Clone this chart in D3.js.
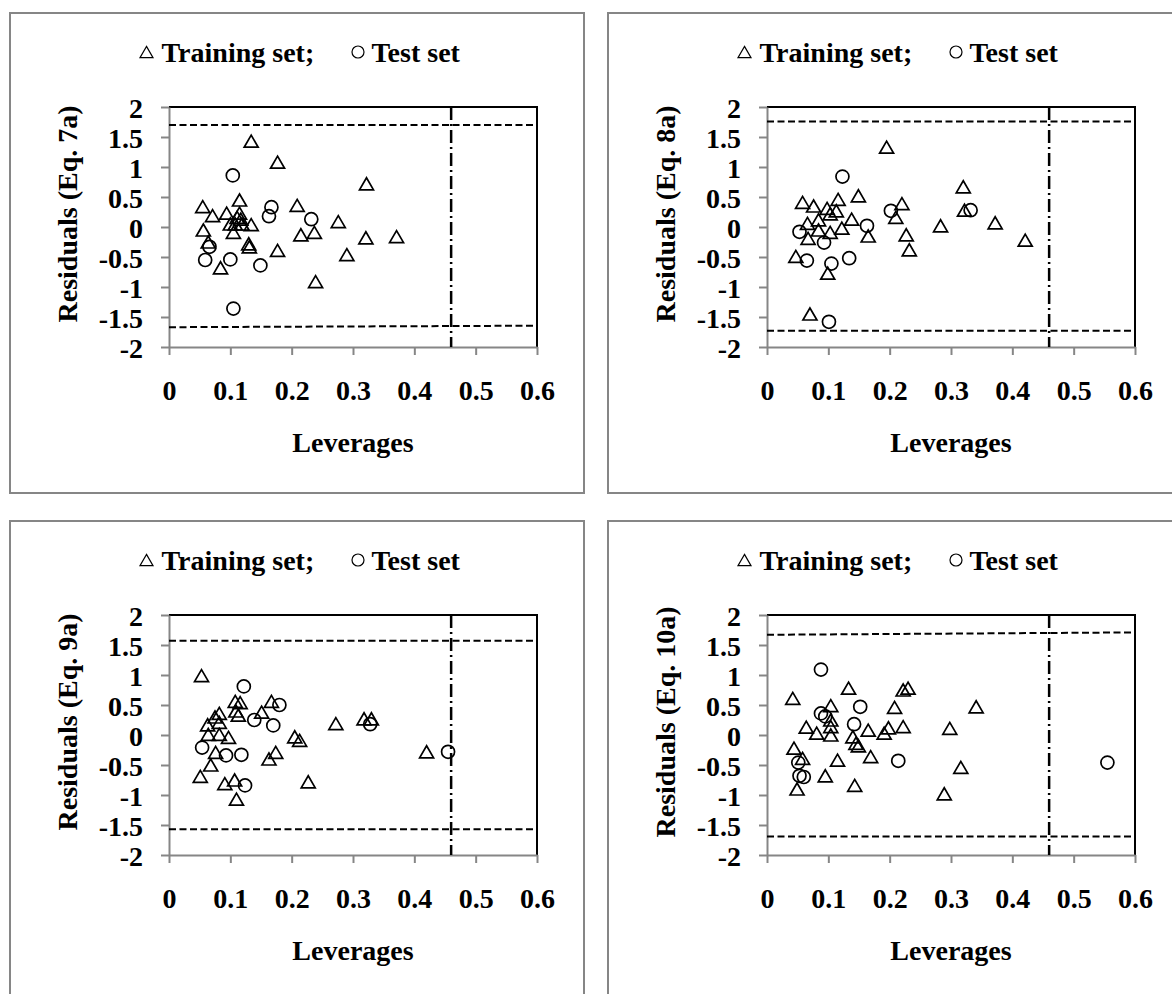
<!DOCTYPE html>
<html>
<head>
<meta charset="utf-8">
<script src="https://cdn.jsdelivr.net/npm/d3@7"></script>
<style>
  body { margin: 0; background: #fff; }
  text { font-family: "Liberation Serif", "Times New Roman", serif; font-weight: bold; fill: #000; }
</style>
</head>
<body>
<div id="chart"></div>
<script>
// one panel per model, leverage vs residual (Williams plot)
var models = ["7a", "8a", "9a", "10a"];
var xTicks = [0, 0.1, 0.2, 0.3, 0.4, 0.5, 0.6];
var yTicks = [2, 1.5, 1, 0.5, 0, -0.5, -1, -1.5, -2];
var hStar = [0.46, 0.46, 0.46, 0.46];
// residual limits at leverage 0 and 0.6
var upperLimit = [[1.70, 1.70], [1.76, 1.76], [1.57, 1.57], [1.67, 1.71]];
var lowerLimit = [[-1.67, -1.645], [-1.73, -1.73], [-1.57, -1.57], [-1.69, -1.69]];

// [leverage, residual]
var train7a = [[0.134,1.43],[0.177,1.08],[0.322,0.72],[0.055,0.34],[0.071,0.19],[0.094,0.23],
  [0.115,0.45],[0.209,0.36],[0.276,0.09],[0.056,-0.05],[0.064,-0.25],[0.084,-0.68],[0.100,0.05],
  [0.105,-0.09],[0.108,0.05],[0.111,0.16],[0.115,0.23],[0.117,0.13],[0.119,0.05],[0.134,0.04],
  [0.130,-0.28],[0.131,-0.33],[0.177,-0.39],[0.215,-0.13],[0.237,-0.09],[0.290,-0.46],
  [0.239,-0.91],[0.321,-0.18],[0.371,-0.16]];
var test7a = [[0.104,0.86],[0.167,0.33],[0.163,0.18],[0.232,0.13],[0.066,-0.33],[0.059,-0.55],
  [0.100,-0.54],[0.149,-0.64],[0.105,-1.36]];

var train8a = [[0.195,1.33],[0.320,0.67],[0.322,0.28],[0.372,0.07],[0.421,-0.22],[0.283,0.02],
  [0.058,0.41],[0.076,0.35],[0.098,0.31],[0.116,0.46],[0.149,0.52],[0.113,0.27],[0.103,0.22],
  [0.066,0.06],[0.084,0.12],[0.084,-0.05],[0.103,-0.09],[0.122,-0.02],[0.138,0.13],[0.067,-0.19],
  [0.165,-0.15],[0.210,0.16],[0.220,0.39],[0.227,-0.13],[0.232,-0.38],[0.047,-0.49],[0.099,-0.77],
  [0.070,-1.45]];
var test8a = [[0.123,0.84],[0.053,-0.08],[0.093,-0.26],[0.065,-0.56],[0.105,-0.61],[0.134,-0.52],
  [0.163,0.02],[0.202,0.27],[0.332,0.28],[0.101,-1.58]];

var train9a = [[0.053,0.99],[0.108,0.56],[0.116,0.54],[0.109,0.40],[0.113,0.33],[0.167,0.56],
  [0.151,0.38],[0.075,0.30],[0.082,0.36],[0.082,0.21],[0.063,0.17],[0.064,0.01],[0.082,0.01],
  [0.097,-0.04],[0.076,-0.29],[0.068,-0.50],[0.051,-0.69],[0.091,-0.81],[0.107,-0.75],[0.110,-1.07],
  [0.205,-0.03],[0.213,-0.09],[0.163,-0.40],[0.174,-0.29],[0.227,-0.78],[0.272,0.19],[0.318,0.27],
  [0.330,0.27],[0.420,-0.28]];
var test9a = [[0.122,0.81],[0.180,0.50],[0.139,0.25],[0.170,0.16],[0.054,-0.21],[0.093,-0.34],
  [0.118,-0.33],[0.124,-0.84],[0.328,0.18],[0.455,-0.28]];

var train10a = [[0.042,0.61],[0.133,0.78],[0.222,0.75],[0.230,0.78],[0.341,0.47],[0.104,0.49],
  [0.208,0.46],[0.104,0.25],[0.064,0.13],[0.081,0.03],[0.104,0.14],[0.104,0.00],[0.140,-0.03],
  [0.145,-0.14],[0.149,-0.18],[0.165,0.08],[0.198,0.12],[0.191,0.03],[0.222,0.14],[0.298,0.11],
  [0.044,-0.22],[0.058,-0.39],[0.115,-0.42],[0.169,-0.36],[0.095,-0.68],[0.049,-0.90],[0.143,-0.84],
  [0.316,-0.54],[0.289,-0.98]];
var test10a = [[0.088,1.09],[0.088,0.36],[0.095,0.31],[0.152,0.47],[0.142,0.18],[0.051,-0.46],
  [0.053,-0.68],[0.060,-0.70],[0.214,-0.43],[0.555,-0.46]];

var trainSets = [train7a, train8a, train9a, train10a];
var testSets = [test7a, test8a, test9a, test10a];

var width = 1172;
var height = 994;
var panelW = 574, panelH = 480;
var panelPos = [[10, 13], [608, 13], [10, 521], [608, 521]];
var plot = { left: 159, right: 527, top: 94, bottom: 334 };
var axisGray = "#868686";

var svg = d3.select("#chart").append("svg")
  .attr("width", width)
  .attr("height", height);

svg.append("rect").attr("width", width).attr("height", height).attr("fill", "#fff");

var x = d3.scaleLinear().domain([0, 0.6]).range([plot.left, plot.right]);
var y = d3.scaleLinear().domain([-2, 2]).range([plot.bottom, plot.top]);

function triPath(s) {
  var w = s, h = s * 0.86;
  return "M0," + (-h / 2) + "L" + (w / 2) + "," + (h / 2) + "L" + (-w / 2) + "," + (h / 2) + "Z";
}

models.forEach(function (m, i) {
  var g = svg.append("g")
    .attr("transform", "translate(" + panelPos[i][0] + "," + panelPos[i][1] + ")");

  // cadre du panneau
  g.append("rect")
    .attr("x", 0).attr("y", 0)
    .attr("width", panelW).attr("height", panelH)
    .attr("fill", "none")
    .attr("stroke", axisGray)
    .attr("stroke-width", 2);

  // legende
  g.append("path")
    .attr("d", triPath(13))
    .attr("transform", "translate(136.5,39)")
    .attr("fill", "none").attr("stroke", "#000").attr("stroke-width", 1.2);
  g.append("text").attr("x", 151.5).attr("y", 48.5)
    .style("font-size", "28px").text("Training set;");
  g.append("circle").attr("cx", 348).attr("cy", 39).attr("r", 6)
    .attr("fill", "none").attr("stroke", "#000").attr("stroke-width", 1.2);
  g.append("text").attr("x", 361.5).attr("y", 48.5)
    .style("font-size", "28px").text("Test set");

  // bord haut et droit
  g.append("path")
    .attr("d", "M" + plot.left + "," + plot.top + "H" + plot.right + "V" + plot.bottom)
    .attr("fill", "none").attr("stroke", "#000").attr("stroke-width", 2);

  // axes
  var ay = g.append("g")
    .attr("transform", "translate(" + plot.left + ",0)")
    .call(d3.axisLeft(y).tickValues(yTicks).tickSize(8).tickSizeOuter(0).tickPadding(18)
      .tickFormat(function (d) { return String(d); }));
  var ax = g.append("g")
    .attr("transform", "translate(0," + plot.bottom + ")")
    .call(d3.axisBottom(x).tickValues(xTicks).tickSize(8).tickSizeOuter(0)
      .tickFormat(function (d) { return String(d); }));

  [ay, ax].forEach(function (a) {
    a.select(".domain").attr("stroke", axisGray).attr("stroke-width", 2);
    a.selectAll(".tick line").attr("stroke", axisGray).attr("stroke-width", 2);
    a.selectAll("text")
      .style("font-size", "28px")
      .style("font-family", "'Liberation Serif', 'Times New Roman', serif")
      .style("font-weight", "bold")
      .attr("fill", "#000");
  });
  ay.selectAll("text").attr("dy", "0.36em");
  ax.selectAll("text").attr("dy", null).attr("y", 53);

  // limites
  g.append("line")
    .attr("x1", x(0)).attr("x2", x(0.6))
    .attr("y1", y(upperLimit[i][0])).attr("y2", y(upperLimit[i][1]))
    .attr("stroke", "#000").attr("stroke-width", 2).attr("stroke-dasharray", "7,3.5");
  g.append("line")
    .attr("x1", x(0)).attr("x2", x(0.6))
    .attr("y1", y(lowerLimit[i][0])).attr("y2", y(lowerLimit[i][1]))
    .attr("stroke", "#000").attr("stroke-width", 2).attr("stroke-dasharray", "7,3.5");
  g.append("line")
    .attr("x1", x(hStar[i])).attr("x2", x(hStar[i]))
    .attr("y1", y(2)).attr("y2", y(-2))
    .attr("stroke", "#000").attr("stroke-width", 2.5).attr("stroke-dasharray", "13,4,2,4");

  // points
  g.selectAll(".train")
    .data(trainSets[i])
    .enter()
    .append("path")
    .attr("class", "train")
    .attr("d", triPath(14))
    .attr("transform", function (d) { return "translate(" + x(d[0]) + "," + y(d[1]) + ")"; })
    .attr("fill", "none").attr("stroke", "#000").attr("stroke-width", 1.7);

  g.selectAll(".test")
    .data(testSets[i])
    .enter()
    .append("circle")
    .attr("class", "test")
    .attr("cx", function (d) { return x(d[0]); })
    .attr("cy", function (d) { return y(d[1]); })
    .attr("r", 6.5)
    .attr("fill", "none").attr("stroke", "#000").attr("stroke-width", 1.7);

  // titres des axes
  g.append("text")
    .attr("transform", "translate(67,201) rotate(-90)")
    .attr("text-anchor", "middle")
    .style("font-size", "28px")
    .text("Residuals (Eq. " + m + ")");
  g.append("text")
    .attr("x", (plot.left + plot.right) / 2)
    .attr("y", 439)
    .attr("text-anchor", "middle")
    .style("font-size", "28px")
    .text("Leverages");
});
</script>
</body>
</html>
